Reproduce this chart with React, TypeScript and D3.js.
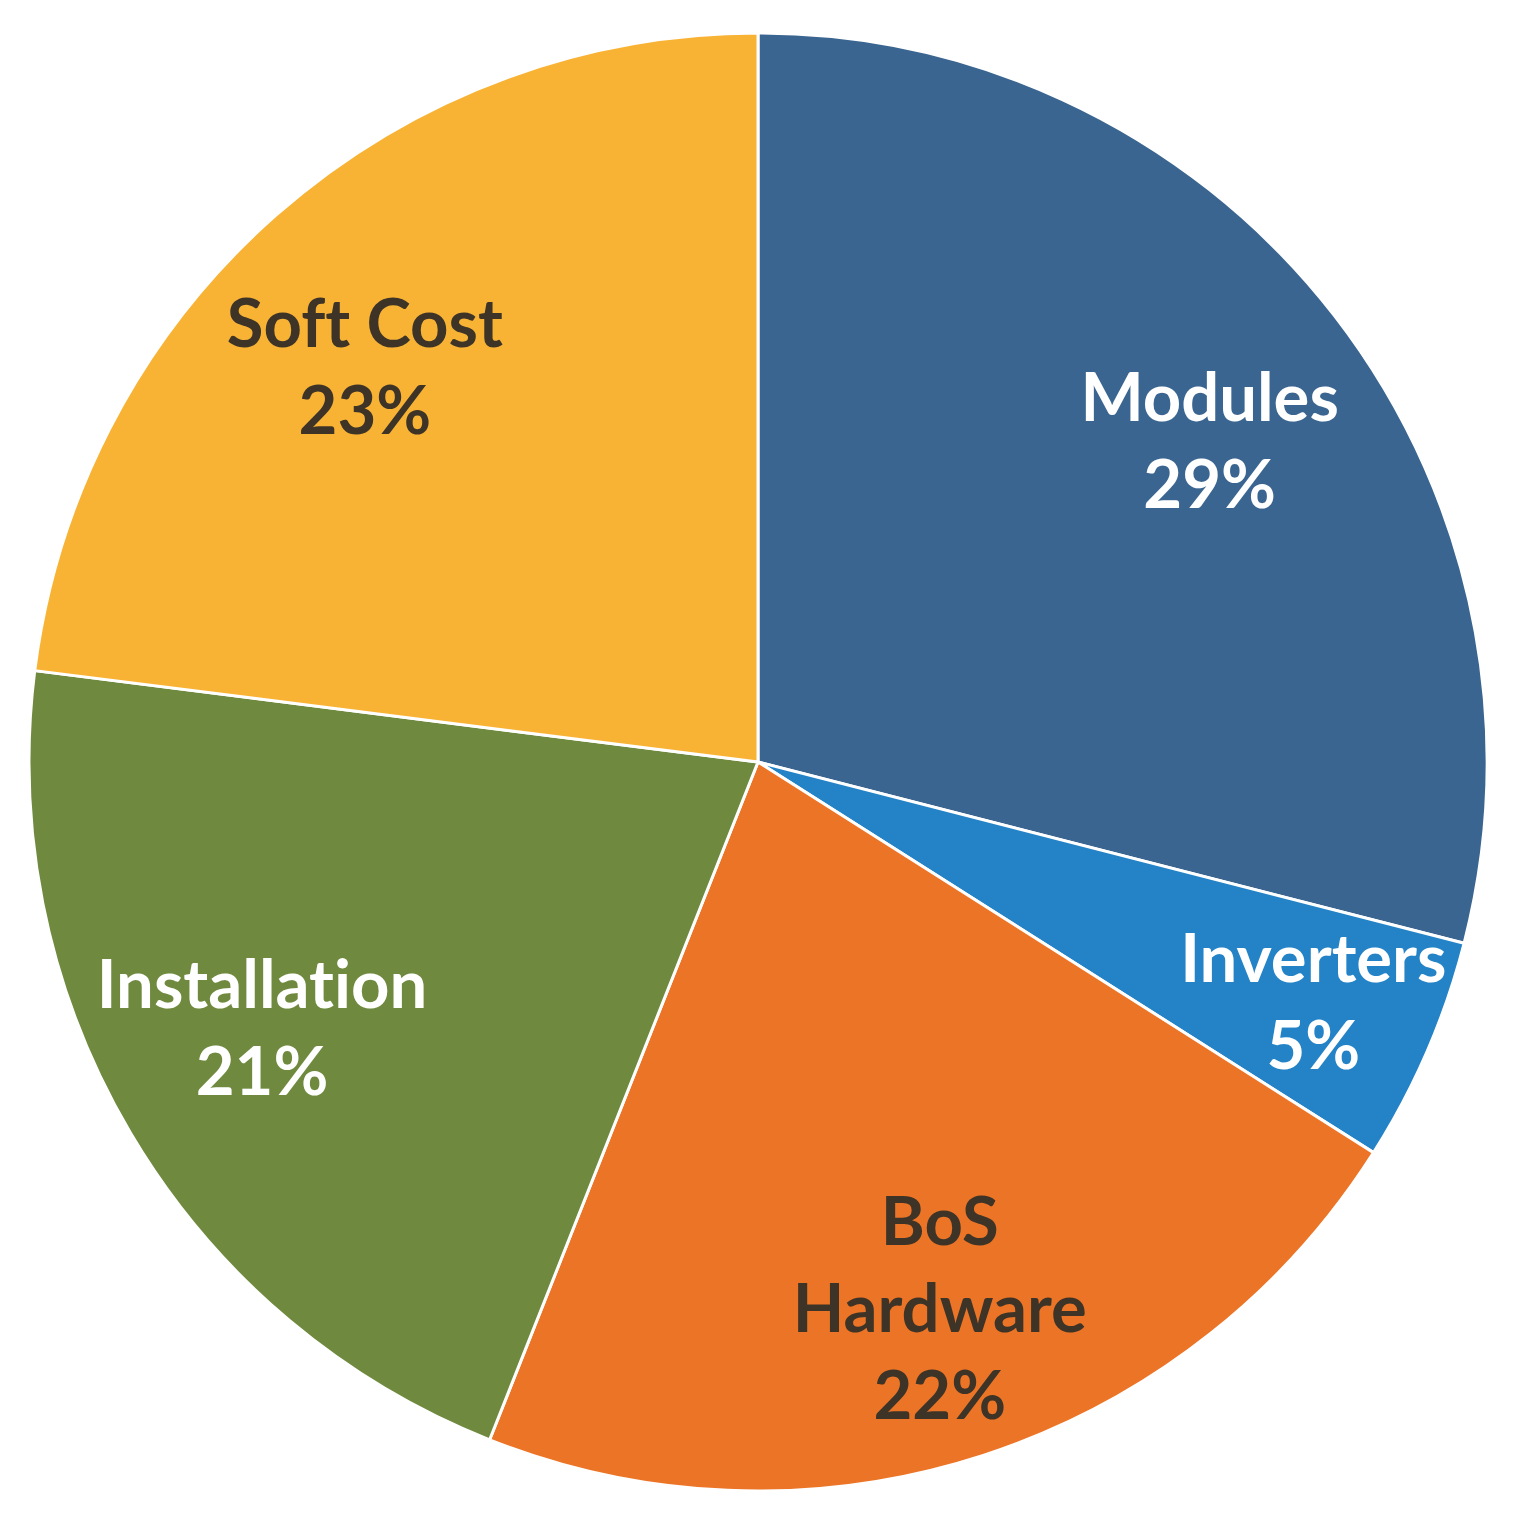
import React from 'react';
import * as d3 from 'd3';

const width = 1521;
const height = 1524;

// slices, clockwise from 12 o'clock
const categories = ['Modules', 'Inverters', 'BoS Hardware', 'Installation', 'Soft Cost'];
const values = [29, 5, 22, 21, 23];
const labelLines = [['Modules', '29%'], ['Inverters', '5%'], ['BoS', 'Hardware', '22%'], ['Installation', '21%'], ['Soft Cost', '23%']];
const colors = ['#3A6590', '#2383C6', '#EC7426', '#6F8A3E', '#F8B335'];
const textColors = ['#ffffff', '#ffffff', '#3d3427', '#ffffff', '#3d3427'];

const cx = 758;
const cy = 762;
const radius = 729;

// label placement: fraction of radius, and angle nudge (degrees) from slice middle
const labelRadius = [0.76, 0.83, 0.79, 0.772, 0.764];
const labelNudge = [2.4, 0, -0.4, 2.4, -3.5];

const App = () => {
  const data = categories.map((c, i) => ({ name: c, value: values[i], i }));
  const pie = d3.pie<any>().value(d => d.value).sort(null);
  const arcs = pie(data);
  const arc = d3.arc<any>().innerRadius(0).outerRadius(radius);

  const lineH = 87;

  return (
    <div style={{ position: 'absolute', left: 0, top: 0 }}>
      <svg width={width} height={height} style={{ display: 'block', background: '#fff' }}>
        <g transform={`translate(${cx},${cy})`}>
          {arcs.map(a => (
            <path key={a.data.name} d={arc(a) as string} fill={colors[a.data.i]} stroke="#fff" strokeWidth={3} strokeLinejoin="round" />
          ))}
          {arcs.map(a => {
            const i = a.data.i;
            const lr = radius * labelRadius[i];
            const mid = (a.startAngle + a.endAngle) / 2 + (labelNudge[i] * Math.PI) / 180;
            const x = lr * Math.sin(mid);
            const y = -lr * Math.cos(mid);
            const lines = labelLines[i];
            const y0 = y - ((lines.length - 1) * lineH) / 2;
            return (
              <text key={a.data.name} x={x} textAnchor="middle" fontFamily="Lato, 'Open Sans', sans-serif" fontWeight={700} fontSize={67} fill={textColors[i]} style={{ fontVariantLigatures: 'none' }}>
                {lines.map((l, j) => (
                  <tspan key={j} x={x} y={y0 + j * lineH} dy="0.35em">{l}</tspan>
                ))}
              </text>
            );
          })}
        </g>
      </svg>
    </div>
  );
};

export default App;
